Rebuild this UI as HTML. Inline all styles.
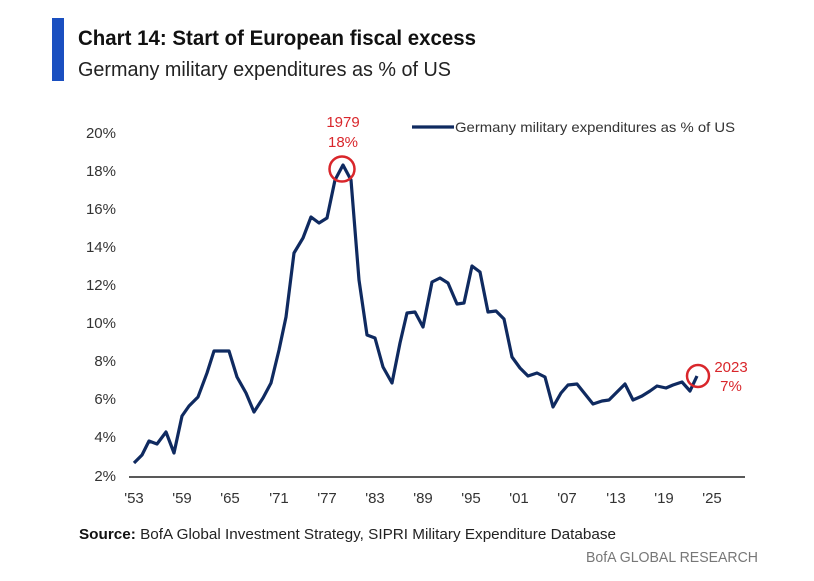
<!DOCTYPE html>
<html><head><meta charset="utf-8"><style>
body{margin:0;background:#fff;width:814px;height:576px;overflow:hidden;font-family:"Liberation Sans",sans-serif}
</style></head><body>
<svg width="814" height="576" xmlns="http://www.w3.org/2000/svg" font-family="Liberation Sans, sans-serif">
<rect x="52" y="18" width="12" height="63" fill="#1a4fc0"/>
<text x="78" y="45" font-size="21" font-weight="bold" fill="#111" textLength="398" lengthAdjust="spacingAndGlyphs">Chart 14: Start of European fiscal excess</text>
<text x="78" y="76" font-size="20" fill="#222" textLength="373" lengthAdjust="spacingAndGlyphs">Germany military expenditures as % of US</text>
<g font-size="15" fill="#333" text-anchor="end">
<text x="116" y="138">20%</text><text x="116" y="176">18%</text><text x="116" y="214">16%</text>
<text x="116" y="252">14%</text><text x="116" y="290">12%</text><text x="116" y="328">10%</text>
<text x="116" y="366">8%</text><text x="116" y="404">6%</text><text x="116" y="442">4%</text>
<text x="116" y="481">2%</text>
</g>
<line x1="129" y1="477" x2="745" y2="477" stroke="#222" stroke-width="1.5"/>
<g font-size="15" fill="#333" text-anchor="middle">
<text x="134" y="503">'53</text><text x="182" y="503">'59</text><text x="230" y="503">'65</text>
<text x="279" y="503">'71</text><text x="327" y="503">'77</text><text x="375" y="503">'83</text>
<text x="423" y="503">'89</text><text x="471" y="503">'95</text><text x="519" y="503">'01</text>
<text x="567" y="503">'07</text><text x="616" y="503">'13</text><text x="664" y="503">'19</text>
<text x="712" y="503">'25</text>
</g>
<polyline fill="none" stroke="#0f2a60" stroke-width="3.2" stroke-linejoin="round" points="134,463 142,455 149,441 157,444 166,432 174,453 182,416 189,406 198,397 207,373 214,351 229,351 237,377 246,393 254,412 263,398 271,383 279,350 286,317 294,253 303,238 311,217 319,223 327,218 335,180 343,165 351,180 359,280 367,335 375,338 383,367 392,383 400,343 407,313 415,312 423,327 432,282 440,278 448,283 457,304 464,303 472,266 480,272 488,312 496,311 504,319 512,357 520,368 528,376 537,373 545,377 553,407 561,393 568,385 577,384 585,394 593,404 602,401 609,400 617,392 625,384 633,400 642,396 650,391 657,386 666,388 673,385 682,382 690,391 697,376"/>
<circle cx="342" cy="169" r="12.5" fill="none" stroke="#d9262b" stroke-width="2.5"/>
<circle cx="698" cy="376" r="11" fill="none" stroke="#d9262b" stroke-width="2.5"/>
<g font-size="15" fill="#d9262b" text-anchor="middle">
<text x="343" y="127">1979</text><text x="343" y="147">18%</text>
<text x="731" y="372">2023</text><text x="731" y="391">7%</text>
</g>
<line x1="412" y1="127" x2="454" y2="127" stroke="#0f2a60" stroke-width="3.2"/>
<text x="455" y="132" font-size="14" fill="#333" textLength="280" lengthAdjust="spacingAndGlyphs">Germany military expenditures as % of US</text>
<text x="79" y="539" font-size="15" fill="#222" textLength="537" lengthAdjust="spacingAndGlyphs"><tspan font-weight="bold" fill="#111">Source:</tspan> BofA Global Investment Strategy, SIPRI Military Expenditure Database</text>
<text x="758" y="562" font-size="15" fill="#777" text-anchor="end" textLength="172" lengthAdjust="spacingAndGlyphs">BofA GLOBAL RESEARCH</text>
</svg>
</body></html>
